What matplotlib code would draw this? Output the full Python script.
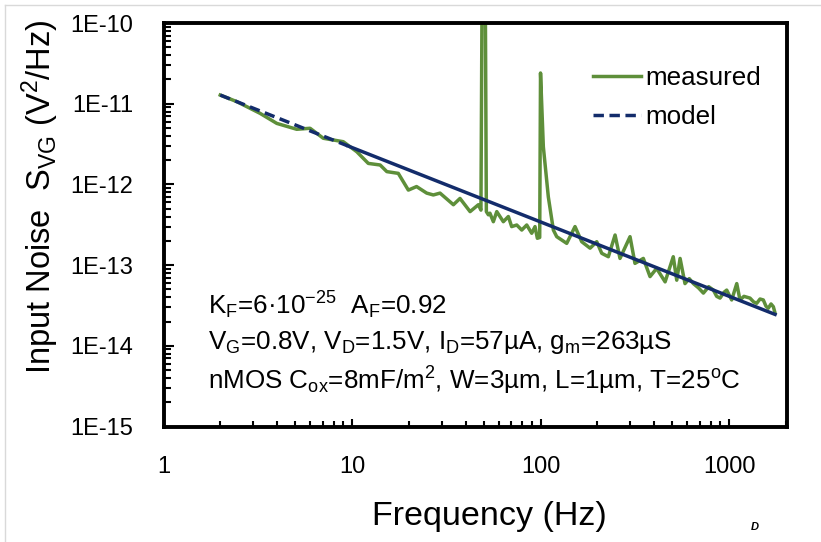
import matplotlib
matplotlib.use('Agg')
import matplotlib.pyplot as plt
from matplotlib.lines import Line2D

# measured input-referred noise S_VG (V^2/Hz) vs frequency (Hz)
freq = [2.0, 2.45, 3.25, 3.99, 5.09, 5.99, 7.04, 8.99, 10.6, 12.2,
        14.1, 15.3, 17.6, 19.9, 22.0, 24.9, 27.0, 29.3, 34.5, 37.4,
        42.3, 46.8, 48.3, 48.9, 51.0, 51.6, 52.9, 53.9, 56.2, 58.6,
        63.5, 67.5, 70.3, 74.8, 79.5, 84.5, 89.8, 93.5, 96.2, 99.0,
        100.0, 103.5, 110, 117, 121.9, 137.7, 152.4, 165.4, 183.2, 198.7,
        211.2, 229, 248.6, 264, 298.4, 317, 351, 381, 413, 458,
        506, 528, 550, 584, 615, 647, 690, 731, 780, 826,
        860, 896, 940, 972, 1033, 1099, 1143, 1200, 1292, 1350,
        1402, 1460, 1520, 1570, 1615, 1670, 1718, 1754]
psd = [1.28e-11, 1.06e-11, 7.6e-12, 5.7e-12, 4.82e-12, 4.96e-12, 3.73e-12, 3.38e-12, 2.54e-12, 1.82e-12,
       1.74e-12, 1.44e-12, 1.37e-12, 8.5e-13, 9.4e-13, 7.8e-13, 7.4e-13, 7.8e-13, 5.6e-13, 6.7e-13,
       4.6e-13, 5.6e-13, 4.8e-13, 1.3e-10, 1.3e-10, 4.6e-13, 4.2e-13, 4.4e-13, 3.45e-13, 4.6e-13,
       3.45e-13, 4.0e-13, 3.0e-13, 3.14e-13, 2.72e-13, 3.14e-13, 2.48e-13, 3.0e-13, 2.15e-13, 2.2e-13,
       2.4e-11, 2.93e-12, 7.0e-13, 2.72e-13, 2.25e-13, 1.86e-13, 3.0e-13, 1.95e-13, 1.62e-13, 1.95e-13,
       1.40e-13, 1.27e-13, 2.36e-13, 1.21e-13, 2.25e-13, 1.05e-13, 1.21e-13, 7.2e-14, 9.1e-14, 6.2e-14,
       1.27e-13, 6.5e-14, 1.21e-13, 5.9e-14, 6.8e-14, 5.9e-14, 5.2e-14, 4.5e-14, 5.4e-14, 4.9e-14,
       4.1e-14, 3.9e-14, 4.6e-14, 4.9e-14, 3.7e-14, 5.9e-14, 3.7e-14, 4.1e-14, 3.9e-14, 3.5e-14,
       3.36e-14, 3.8e-14, 3.7e-14, 3.1e-14, 2.92e-14, 3.3e-14, 3.05e-14, 2.55e-14]

# 1/f model line (K_F=6e-25, A_F=0.92)
model_freq = [2.0, 9.5, 1754]
model_psd = [1.28e-11, 3.0e-12, 2.45e-14]

x_ticks = [1, 10, 100, 1000]
y_ticks = [1e-15, 1e-14, 1e-13, 1e-12, 1e-11, 1e-10]
y_ticklabels = ['1E-15', '1E-14', '1E-13', '1E-12', '1E-11', '1E-10']

green = '#5E8F3A'
navy = '#132C6B'

plt.rcParams['font.family'] = ['Liberation Sans', 'DejaVu Sans']
plt.rcParams['mathtext.fontset'] = 'custom'
plt.rcParams['mathtext.rm'] = 'Liberation Sans'
plt.rcParams['mathtext.it'] = 'Liberation Sans:italic'
plt.rcParams['mathtext.bf'] = 'Liberation Sans:bold'

W, H = 821, 542
fig = plt.figure(figsize=(W / 100, H / 100), dpi=100)
ax = fig.add_axes([163.5 / W, 1 - 426.5 / H, (787 - 163.5) / W, (426.5 - 23) / H])

ax.plot(freq, psd, color=green, lw=2.5, solid_joinstyle='round', zorder=2)
# model: dashed at low f, looks solid where excel's points get dense
ax.plot(model_freq[:2], model_psd[:2], color=navy, lw=2.5, dashes=(3.0, 1.6), zorder=3)
ax.plot(model_freq[1:], model_psd[1:], color=navy, lw=2.5, zorder=3)

ax.set_xscale('log')
ax.set_yscale('log')
ax.set_xlim(1, 2030)
ax.set_ylim(1e-15, 1e-10)
ax.set_xticks(x_ticks)
ax.set_xticklabels([str(t) for t in x_ticks])
ax.set_yticks(y_ticks)
ax.set_yticklabels(y_ticklabels)

for s in ax.spines.values():
    s.set_linewidth(2.8)
ax.tick_params(which='both', direction='in', width=1.5, top=False, right=False)
ax.tick_params(axis='y', which='major', length=7, pad=22, labelsize=17)
ax.tick_params(axis='y', which='minor', length=5)
ax.tick_params(axis='x', which='major', length=6, pad=21, labelsize=17)
ax.tick_params(axis='x', which='minor', length=4)
ax.minorticks_on()
ax.xaxis.set_minor_formatter(plt.NullFormatter())
ax.yaxis.set_minor_formatter(plt.NullFormatter())

fig.text(489 / W, 1 - 516 / H, 'Frequency (Hz)', fontsize=24.5, ha='center', va='center')
fig.text(40 / W, 1 - 197 / H, r'Input Noise  S$_\mathrm{VG}$ (V$^\mathrm{2}$/Hz)',
         fontsize=23.5, rotation=90, ha='center', va='center')

ann = [r'K$_\mathrm{F}$=6·10$^\mathrm{-25}$  A$_\mathrm{F}$=0.92',
       r'V$_\mathrm{G}$=0.8V, V$_\mathrm{D}$=1.5V, I$_\mathrm{D}$=57µA, g$_\mathrm{m}$=263µS',
       r'nMOS C$_\mathrm{ox}$=8mF/m$^\mathrm{2}$, W=3µm, L=1µm, T=25$^\mathrm{o}$C']
for txt, yp in zip(ann, [305, 343, 381]):
    fig.text(208 / W, 1 - yp / H, txt, fontsize=18.7, ha='left', va='center')

handles = [Line2D([], [], color=green, lw=2.5),
           Line2D([], [], color=navy, lw=2.5, dashes=(3.0, 1.6))]
ax.legend(handles, ['measured', 'model'], loc='upper left',
          bbox_to_anchor=(593 / W, 1 - 66 / H), bbox_transform=fig.transFigure,
          frameon=False, fontsize=18.7, handlelength=1.85, handletextpad=0.15,
          labelspacing=0.58, borderpad=0, borderaxespad=0)

fig.text(755 / W, 1 - 527 / H, 'D', fontsize=8, fontweight='bold', style='italic',
         ha='center', va='center')

# thin grey border of the screenshot
fig.add_artist(Line2D([5 / W, 1], [1 - 5 / H, 1 - 5 / H], color='#d9d9d9', lw=1))
fig.add_artist(Line2D([5 / W, 5 / W], [0, 1 - 5 / H], color='#d9d9d9', lw=1))

fig.savefig('out.png', dpi=100)
